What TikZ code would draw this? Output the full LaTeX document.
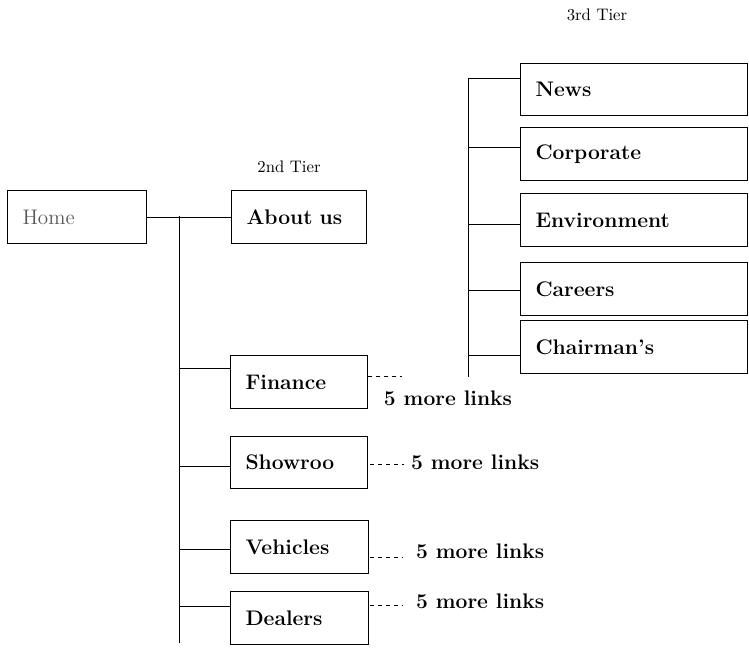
\documentclass[tikz,border=0pt]{standalone}
\usepackage{tikz}
\usetikzlibrary{positioning}

\tikzset{
  pagebox/.style={draw, line width=0.6pt, rectangle, anchor=north west,
    inner xsep=0.3cm, align=left, minimum height=1.06cm,
    font=\fontsize{12}{14}\selectfont\bfseries},
  tierlbl/.style={font=\fontsize{9.5}{12}\selectfont},
  morelbl/.style={font=\fontsize{12}{14}\selectfont\bfseries, inner sep=1pt},
  link/.style={line width=0.55pt},
  morelink/.style={line width=0.55pt, dash pattern=on 2.5pt off 2pt}
}

\begin{document}
\begin{tikzpicture}[x=0.02cm, y=-0.02cm]
\useasboundingbox (0,0) rectangle (749,648);

% tier captions
\node[tierlbl] (tier3) at (597,15) {3rd Tier};
\node[tierlbl] (tier2) at (289,167) {2nd Tier};

% home and 2nd tier
\node[pagebox, text width=2.18cm, font=\fontsize{12}{14}\selectfont, text=black!65] (home) at (7,190) {Home};
\node[pagebox, text width=2.10cm] (about) at (231,190) {About us};
\node[pagebox, text width=2.14cm] (fin) at (230,355) {Finance};
\node[pagebox, text width=2.14cm, minimum height=1.04cm] (show) at (230,436) {Showroo};
\node[pagebox, text width=2.16cm] (veh) at (230,520) {Vehicles};
\node[pagebox, text width=2.16cm] (deal) at (230,591) {Dealers};

\draw[link] (home.east) -- (about.west);
\coordinate (trunktop) at (179,216);
\coordinate (trunkbot) at (179,643);
\draw[link] (trunktop) -- (trunkbot);
\coordinate (bfin) at (179,368);
\coordinate (bshow) at (179,466);
\coordinate (bveh) at (179,549);
\coordinate (bdeal) at (179,606);
\draw[link] (bfin) -- (bfin -| fin.west);
\draw[link] (bshow) -- (bshow -| show.west);
\draw[link] (bveh) -- (bveh -| veh.west);
\draw[link] (bdeal) -- (bdeal -| deal.west);

% more links
\node[morelbl] (morefin) at (448,398) {5 more links};
\node[morelbl, anchor=west] (moreshow) at (409,462) {5 more links};
\node[morelbl, anchor=west] (moreveh) at (414,551) {5 more links};
\node[morelbl, anchor=west] (moredeal) at (414,601) {5 more links};
\coordinate (dfin) at (368,376);
\coordinate (dshow) at (370,464);
\coordinate (dveh) at (370,557);
\coordinate (ddeal) at (370,605);
\draw[morelink] (dfin) -- ++(34,0);
\draw[morelink] (dshow) -- ++(34,0);
\draw[morelink] (dveh) -- ++(32,0);
\draw[morelink] (ddeal) -- ++(32,0);

% 3rd tier
\node[pagebox, text width=3.94cm, minimum height=1.04cm] (news) at (520,63) {News};
\node[pagebox, text width=3.94cm] (corp) at (520,127) {Corporate};
\node[pagebox, text width=3.94cm] (env) at (520,193) {Environment};
\node[pagebox, text width=3.94cm] (car) at (520,262) {Careers};
\node[pagebox, text width=3.94cm] (chair) at (520,320) {Chairman's};

\coordinate (stemtop) at (468,78);
\coordinate (stembot) at (468,377);
\draw[link] (stemtop) -- (stembot);
\coordinate (bcorp) at (468,147);
\coordinate (benv) at (468,224);
\coordinate (bcar) at (468,290);
\coordinate (bchair) at (468,355);
\draw[link] (stemtop) -- (stemtop -| news.west);
\draw[link] (bcorp) -- (bcorp -| corp.west);
\draw[link] (benv) -- (benv -| env.west);
\draw[link] (bcar) -- (bcar -| car.west);
\draw[link] (bchair) -- (bchair -| chair.west);
\end{tikzpicture}
\end{document}
